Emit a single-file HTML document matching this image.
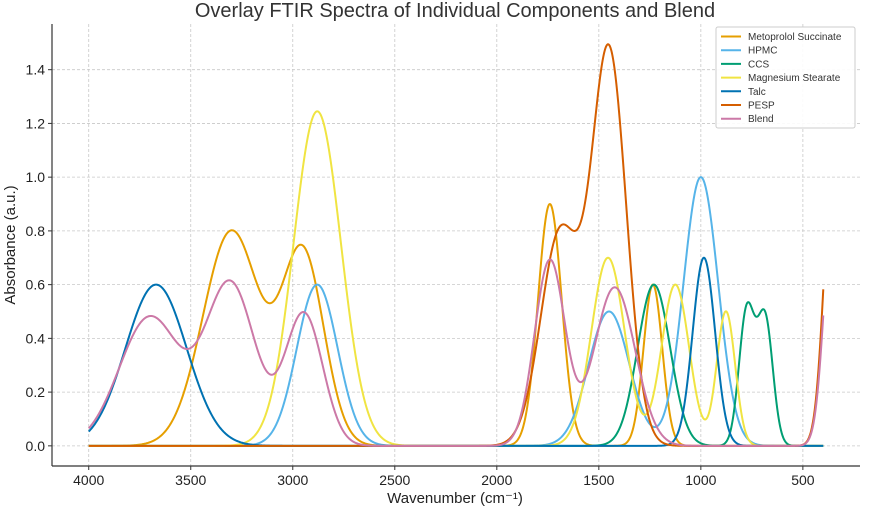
<!DOCTYPE html>
<html><head><meta charset="utf-8"><style>
html,body{margin:0;padding:0;background:#fff;}
svg{display:block;font-family:"Liberation Sans","DejaVu Sans",sans-serif;}
</style></head><body>
<svg id="chart" width="870" height="518" viewBox="0 0 870 518" xmlns="http://www.w3.org/2000/svg">
<text x="455" y="17" text-anchor="middle" font-size="20" fill="#333">Overlay FTIR Spectra of Individual Components and Blend</text>
<g id="grid"></g>
<g id="series"></g>
<g id="axes"></g>
<text x="455" y="503" text-anchor="middle" font-size="15" fill="#222">Wavenumber (cm⁻¹)</text>
<text transform="translate(15,245) rotate(-90)" text-anchor="middle" font-size="15" fill="#222">Absorbance (a.u.)</text>
<g id="legend"></g>
</svg>
<script>
// ---- data: peaks per series (center cm-1, height, width) ----
const seriesNames = ["Metoprolol Succinate","HPMC","CCS","Magnesium Stearate","Talc","PESP","Blend"];
const seriesColors = ["#E69F00","#56B4E9","#009E73","#F0E442","#0072B2","#D55E00","#CC79A7"];
const metoCenters = [3300, 2950, 1740, 1235];
const metoHeights = [0.8, 0.71, 0.9, 0.6];
const metoWidths  = [140, 103, 58, 46];
const hpmcCenters = [2880, 1450, 1000];
const hpmcHeights = [0.6, 0.5, 1.0];
const hpmcWidths  = [100, 100, 85];
const ccsCenters = [1230, 775, 685];
const ccsHeights = [0.6, 0.5, 0.47];
const ccsWidths  = [80, 38, 38];
const mgstCenters = [2880, 1455, 1125, 877];
const mgstHeights = [1.245, 0.7, 0.6, 0.5];
const mgstWidths  = [116, 82, 68, 45];
const talcCenters = [3670, 985];
const talcHeights = [0.6, 0.7];
const talcWidths  = [150, 55];
const pespCenters = [1690, 1450, 350];
const pespHeights = [0.79, 1.46, 1.08];
const pespWidths  = [95, 85, 45];
const blendCenters = [3700, 3305, 2945, 1740, 1422, 350];
const blendHeights = [0.48, 0.6, 0.49, 0.69, 0.59, 0.9];
const blendWidths  = [150, 122, 92, 75, 100, 45];
const xTicks = [4000, 3500, 3000, 2500, 2000, 1500, 1000, 500];
const yTicks = [0.0, 0.2, 0.4, 0.6, 0.8, 1.0, 1.2, 1.4];
const xStart = 4000, xEnd = 400;

const seriesPeaks = [
 [metoCenters, metoHeights, metoWidths],
 [hpmcCenters, hpmcHeights, hpmcWidths],
 [ccsCenters, ccsHeights, ccsWidths],
 [mgstCenters, mgstHeights, mgstWidths],
 [talcCenters, talcHeights, talcWidths],
 [pespCenters, pespHeights, pespWidths],
 [blendCenters, blendHeights, blendWidths]
];

const NS = "http://www.w3.org/2000/svg";
const L = 52, R = 860, T = 24, B = 466;
const xMin = 4180, xMax = 220, yMin = -0.075, yMax = 1.57;
function sx(v){ return L + (xMin - v) / (xMin - xMax) * (R - L); }
function sy(v){ return B - (v - yMin) / (yMax - yMin) * (B - T); }
function mk(tag, attrs, parent){ const e = document.createElementNS(NS, tag); for (const k in attrs) e.setAttribute(k, attrs[k]); parent.appendChild(e); return e; }

const grid = document.getElementById('grid');
const axes = document.getElementById('axes');
xTicks.forEach(t => {
  const g = mk('line', {x1: sx(t), x2: sx(t), y1: T, y2: B, stroke: '#c8c8c8', 'stroke-width': 0.8, 'stroke-dasharray': '3,2'}, grid);
  
  
  const tk = mk('line', {x1: sx(t), x2: sx(t), y1: B, y2: B + 4, stroke: '#333', 'stroke-width': 1}, axes);
  
  
  const tl = mk('text', {x: sx(t), y: B + 19, 'text-anchor': 'middle', 'font-size': 14, fill: '#222'}, axes);
  tl.textContent = t;
  
  
});
yTicks.forEach(t => {
  const g = mk('line', {x1: L, x2: R, y1: sy(t), y2: sy(t), stroke: '#c8c8c8', 'stroke-width': 0.8, 'stroke-dasharray': '3,2'}, grid);
  
  
  const tk = mk('line', {x1: L - 4, x2: L, y1: sy(t), y2: sy(t), stroke: '#333', 'stroke-width': 1}, axes);
  
  
  const tl = mk('text', {x: L - 7, y: sy(t) + 5, 'text-anchor': 'end', 'font-size': 14, fill: '#222'}, axes);
  tl.textContent = t.toFixed(1);
  
  
});
const ls = mk('line', {x1: L, x2: L, y1: T, y2: B, stroke: '#333', 'stroke-width': 1.2}, axes);


const bs = mk('line', {x1: L, x2: R, y1: B, y2: B, stroke: '#333', 'stroke-width': 1.2}, axes);



const seriesG = document.getElementById('series');
seriesPeaks.forEach((p, i) => {
  const [c, h, w] = p;
  let d = '';
  for (let x = xStart; x >= xEnd; x -= 2) {
    let y = 0;
    for (let k = 0; k < c.length; k++) y += h[k] * Math.exp(-((x - c[k]) ** 2) / (2 * w[k] * w[k]));
    d += (d ? 'L' : 'M') + sx(x).toFixed(2) + ',' + sy(y).toFixed(2);
  }
  const path = mk('path', {d: d, fill: 'none', stroke: seriesColors[i], 'stroke-width': 2, 'stroke-linejoin': 'round'}, seriesG);
  
  
});

const leg = document.getElementById('legend');
const box = mk('rect', {x: 716, y: 27, width: 139, height: 101, rx: 2, fill: '#fff', 'fill-opacity': 0.9, stroke: '#ccc', 'stroke-width': 1}, leg);


seriesNames.forEach((n, i) => {
  const y = 36.5 + i * 13.7;
  const ln = mk('line', {x1: 721, x2: 741, y1: y, y2: y, stroke: seriesColors[i], 'stroke-width': 2}, leg);
  
  
  const tx = mk('text', {x: 748, y: y + 3.5, 'font-size': 10, fill: '#333'}, leg);
  tx.textContent = n;
  
  
});
</script>
</body></html>
